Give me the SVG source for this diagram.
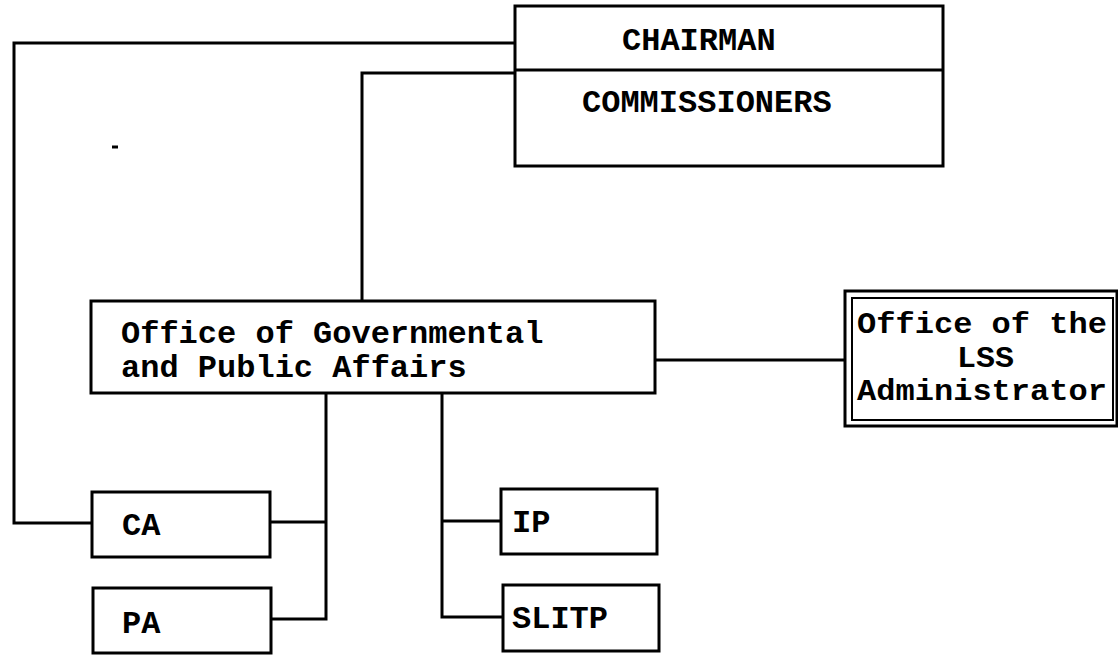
<svg xmlns="http://www.w3.org/2000/svg" width="1118" height="655" viewBox="0 0 1118 655">
<style>
.box{fill:#fff;stroke:#000;stroke-width:3}
.ln{fill:none;stroke:#000;stroke-width:3;stroke-linejoin:miter}
text{font-family:"Liberation Mono","Courier New",monospace;font-weight:bold;font-size:32px;fill:#000}
.sm{font-size:29px}
</style>
<rect width="1118" height="655" fill="#fff"/>
<g id="connectors">
<polyline class="ln" points="515,43 14,43 14,523 92,523"/>
<polyline class="ln" points="515,73 362,73 362,301"/>
<line class="ln" x1="655" y1="360" x2="845" y2="360"/>
<polyline class="ln" points="326,393 326,619 271,619"/>
<line class="ln" x1="270" y1="522" x2="326" y2="522"/>
<polyline class="ln" points="442,393 442,617 503,617"/>
<line class="ln" x1="442" y1="521" x2="501" y2="521"/>
</g>
<g id="chairman">
<rect class="box" x="515" y="6" width="428" height="160"/>
<line class="ln" x1="515" y1="70" x2="943" y2="70"/>
<text x="622" y="50">CHAIRMAN</text>
<text x="582" y="112">COMMISSIONERS</text>
</g>
<g id="ogpa">
<rect class="box" x="91" y="301" width="564" height="92"/>
<text x="121" y="343">Office of Governmental</text>
<text x="121" y="377">and Public Affairs</text>
</g>
<g id="lss">
<rect class="box" x="845" y="291" width="272" height="135"/>
<rect class="box" x="852" y="298" width="261" height="122" style="stroke-width:2"/>
<text class="sm" x="857" y="333" textLength="250" lengthAdjust="spacingAndGlyphs">Office of the</text>
<text class="sm" x="957" y="367" textLength="57" lengthAdjust="spacingAndGlyphs">LSS</text>
<text class="sm" x="857" y="400" textLength="250" lengthAdjust="spacingAndGlyphs">Administrator</text>
</g>
<g id="ca">
<rect class="box" x="92" y="492" width="178" height="65"/>
<text x="122" y="535">CA</text>
</g>
<g id="pa">
<rect class="box" x="93" y="588" width="178" height="65"/>
<text x="122" y="633">PA</text>
</g>
<g id="ip">
<rect class="box" x="501" y="489" width="156" height="65"/>
<text x="512" y="532">IP</text>
</g>
<g id="slitp">
<rect class="box" x="503" y="585" width="156" height="66"/>
<text x="512" y="628">SLITP</text>
</g>
<line x1="112" y1="147" x2="118" y2="147" stroke="#000" stroke-width="3"/>
</svg>
